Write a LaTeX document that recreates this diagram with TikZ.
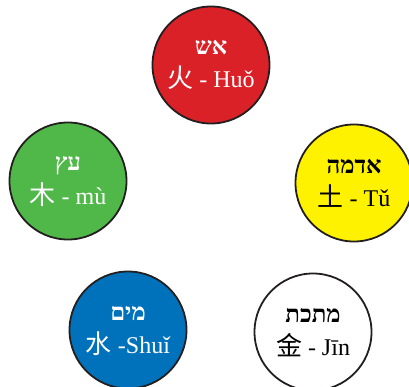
\documentclass[tikz,border=0pt]{standalone}
\usepackage{fontspec}
\usepackage{tikz}
\setmainfont{Liberation Serif}
\newfontfamily\hebfont[Script=Hebrew]{Liberation Serif}
\newfontfamily\cjk{Noto Sans CJK SC}
\TeXXeTstate=1
\newcommand{\hanzi}[1]{{\cjk\fontsize{26}{30}\selectfont #1}}
\definecolor{outline}{RGB}{35,31,32}
\definecolor{firered}{RGB}{218,33,40}
\definecolor{earthyellow}{RGB}{255,242,0}
\definecolor{woodgreen}{RGB}{80,184,72}
\definecolor{waterblue}{RGB}{0,114,188}

\begin{document}
\begin{tikzpicture}[x=1pt, y=1pt,
  elem/.style={circle, draw=outline, line width=1.8pt, minimum size=117pt, inner sep=0pt},
  heb/.style={anchor=base, inner sep=0pt, font=\hebfont\bfseries\fontsize{24}{28}\selectfont},
  pinyin/.style={anchor=base, inner sep=0pt, font=\fontsize{24}{28}\selectfont}]
  \useasboundingbox (0,0) rectangle (409,386);
  \node[elem, fill=firered] (fire) at (211,321) {};
  \node[elem, fill=earthyellow] (earth) at (354,203) {};
  \node[elem, fill=white] (metal) at (313,54) {};
  \node[elem, fill=waterblue] (water) at (128,56) {};
  \node[elem, fill=woodgreen] (wood) at (68,205) {};
  \node[heb, white] (firehe) at ([yshift=10pt]fire) {\beginR אש\endR};
  \node[pinyin, white] (firepy) at ([yshift=-23pt]fire) {\hanzi{火} - Huǒ};
  \node[heb] (earthhe) at ([yshift=10pt]earth) {\beginR אדמה\endR};
  \node[pinyin] (earthpy) at ([yshift=-23pt]earth) {\hanzi{土} - Tǔ};
  \node[heb] (metalhe) at ([yshift=10pt]metal) {\beginR מתכת\endR};
  \node[pinyin] (metalpy) at ([yshift=-23pt]metal) {\hanzi{金} - Jīn};
  \node[heb, white] (waterhe) at ([yshift=10pt]water) {\beginR מים\endR};
  \node[pinyin, white] (waterpy) at ([yshift=-23pt]water) {\hanzi{水} -Shuǐ};
  \node[heb, white] (woodhe) at ([yshift=10pt]wood) {\beginR עץ\endR};
  \node[pinyin, white] (woodpy) at ([yshift=-23pt]wood) {\hanzi{木} - mù};
\end{tikzpicture}
\end{document}
